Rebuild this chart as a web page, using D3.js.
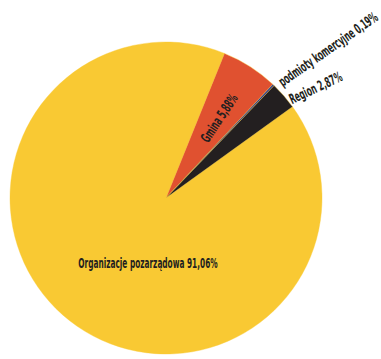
<!DOCTYPE html>
<html>
<head>
<meta charset="utf-8">
<script src="https://cdn.jsdelivr.net/npm/d3@7"></script>
<style>
  body { margin: 0; background: #fff; }
  text { font-family: "DejaVu Sans Condensed", "DejaVu Sans", sans-serif; font-stretch: condensed; font-weight: bold; fill: #231f20; }
</style>
</head>
<body>
<svg id="chart"></svg>
<script>
// data
const categories = ["Organizacje pozarządowa", "Gmina", "podmioty komercyjne", "Region"];
const shares = [91.06, 5.88, 0.19, 2.87];
const labels = ["Organizacje pozarządowa 91,06%", "Gmina 5,88%", "podmioty komercyjne 0,19%", "Region 2,87%"];
const colors = ["#f9c933", "#e05130", "#2b3a97", "#231f20"];

const width = 381, height = 359;
const cx = 166, cy = 198, r = 156;

const svg = d3.select("#chart").attr("width", width).attr("height", height);
const g = svg.append("g").attr("transform", `translate(${cx},${cy})`);

const data = categories.map((c, i) => ({ name: c, value: shares[i], label: labels[i], color: colors[i] }));

// yellow runs clockwise from the end of the dark slice round to the orange one
const startDeg = 22 + 32.2;
const pie = d3.pie().sort(null).value(d => d.value)
  .startAngle(startDeg * Math.PI / 180)
  .endAngle((startDeg + 360) * Math.PI / 180);
const arcs = pie(data);

const arc = d3.arc().innerRadius(0).outerRadius(r);

g.selectAll("path")
  .data(arcs)
  .join("path")
  .attr("d", arc)
  .attr("fill", d => d.data.color)
  .attr("stroke", "#f9c933")
  .attr("stroke-width", 0.4);

const deg = a => a * 180 / Math.PI;
const polar = (a, rad) => [Math.sin(a) * rad, -Math.cos(a) * rad];

// squeeze text horizontally, the original uses a narrow face
const narrow = 0.585;
const fs = 14;

// big label inside yellow slice
g.append("text")
  .attr("transform", `translate(-18,70) scale(${narrow},1)`)
  .attr("text-anchor", "middle")
  .attr("font-size", fs)
  .text(arcs[0].data.label);

// Gmina label along the radius
{
  const a = (arcs[1].startAngle + arcs[1].endAngle) / 2 + 1 * Math.PI / 180;
  const [x, y] = polar(a, 96);
  g.append("text")
    .attr("transform", `translate(${x},${y}) rotate(${deg(a) - 90}) scale(${narrow},1)`)
    .attr("text-anchor", "middle")
    .attr("dy", "0.35em")
    .attr("font-size", fs)
    .text(arcs[1].data.label);
}

// outside labels, placed at their baseline start
const outer = [
  { i: 2, da: 2.9, rad: 161, rot: -35 },
  { i: 3, da: 4.3, rad: 157, rot: -25 }
];
outer.forEach(o => {
  const a = (arcs[o.i].startAngle + arcs[o.i].endAngle) / 2 + o.da * Math.PI / 180;
  const [x, y] = polar(a, o.rad);
  g.append("text")
    .attr("transform", `translate(${x},${y}) rotate(${o.rot}) scale(${narrow},1)`)
    .attr("text-anchor", "start")
    .attr("font-size", fs)
    .text(arcs[o.i].data.label);
});
</script>
</body>
</html>
